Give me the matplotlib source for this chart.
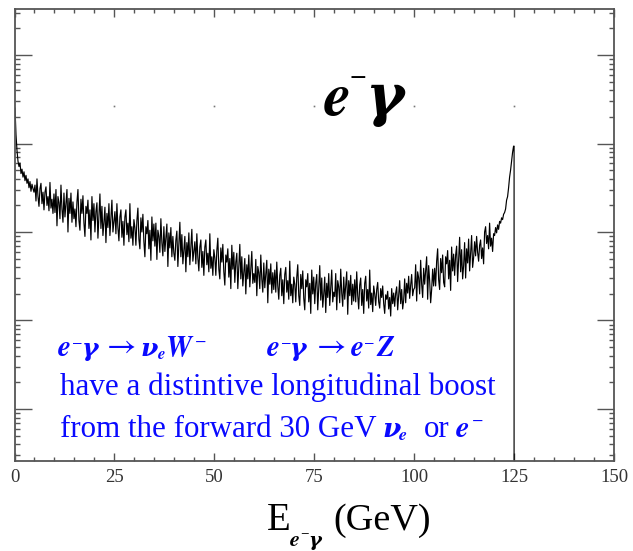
import numpy as np
import matplotlib
matplotlib.use("Agg")
import matplotlib.pyplot as plt
from matplotlib.ticker import MultipleLocator, LogLocator, NullFormatter

# ---------------- data ----------------
bin_width_gev = 0.25
energy_edges = np.arange(0, 125.0 + bin_width_gev / 2, bin_width_gev)   # GeV
# log10(events per 0.25 GeV bin), one row = 5 GeV (20 bins)
log_counts = [
    4.40, 4.10, 3.92, 3.80, 3.74, 3.78, 3.66, 3.71, 3.62, 3.68, 3.58, 3.64, 3.55, 3.60, 3.50, 3.57, 3.46, 3.54, 3.49, 3.45,
    3.53, 3.35, 3.60, 3.40, 3.29, 3.49, 3.55, 3.32, 3.45, 3.25, 3.45, 3.51, 3.30, 3.40, 3.24, 3.56, 3.27, 3.37, 3.21, 3.43,
    3.22, 3.48, 3.07, 3.40, 3.33, 3.15, 3.53, 3.26, 3.11, 3.44, 3.17, 3.33, 3.48, 3.00, 3.38, 3.21, 3.44, 3.11, 3.34, 3.15,
    3.26, 3.06, 3.34, 3.48, 3.13, 3.02, 3.37, 3.21, 3.41, 3.10, 2.95, 3.29, 3.21, 3.36, 3.04, 3.25, 2.91, 3.40, 3.13, 3.32,
    3.00, 3.23, 3.33, 2.93, 3.18, 3.43, 3.04, 3.29, 2.96, 3.11, 3.28, 2.88, 3.21, 3.05, 3.32, 2.96, 3.17, 3.36, 3.00, 3.11,
    3.23, 2.98, 3.32, 3.05, 2.90, 3.17, 3.25, 2.94, 3.12, 2.85, 3.17, 3.25, 2.97, 3.10, 2.89, 3.32, 2.93, 3.06, 2.85, 3.14,
    3.05, 2.85, 3.13, 3.27, 2.92, 2.81, 3.16, 3.00, 3.20, 2.89, 2.72, 3.06, 2.98, 3.13, 2.81, 3.02, 2.68, 3.17, 2.90, 3.09,
    2.84, 3.10, 2.69, 3.02, 2.95, 2.77, 3.15, 2.88, 2.73, 3.06, 2.78, 2.94, 3.09, 2.61, 2.99, 2.82, 3.05, 2.72, 2.95, 2.76,
    2.68, 2.91, 3.01, 2.61, 2.86, 3.11, 2.72, 2.97, 2.64, 2.79, 2.95, 2.55, 2.88, 2.72, 2.99, 2.63, 2.84, 3.03, 2.67, 2.78,
    2.89, 2.64, 2.98, 2.71, 2.56, 2.83, 2.91, 2.60, 2.78, 2.51, 2.83, 2.91, 2.63, 2.76, 2.55, 2.98, 2.59, 2.72, 2.51, 2.80,
    2.71, 2.51, 2.79, 2.93, 2.58, 2.47, 2.82, 2.66, 2.86, 2.55, 2.40, 2.74, 2.66, 2.81, 2.49, 2.70, 2.36, 2.85, 2.58, 2.77,
    2.43, 2.66, 2.76, 2.36, 2.61, 2.86, 2.47, 2.72, 2.39, 2.54, 2.70, 2.30, 2.63, 2.47, 2.74, 2.38, 2.59, 2.78, 2.42, 2.53,
    2.43, 2.69, 2.28, 2.61, 2.54, 2.36, 2.74, 2.47, 2.32, 2.65, 2.37, 2.53, 2.68, 2.20, 2.58, 2.41, 2.64, 2.31, 2.54, 2.35,
    2.57, 2.32, 2.66, 2.39, 2.24, 2.51, 2.59, 2.28, 2.46, 2.19, 2.52, 2.60, 2.32, 2.45, 2.24, 2.67, 2.28, 2.41, 2.20, 2.49,
    2.41, 2.21, 2.49, 2.63, 2.28, 2.17, 2.52, 2.36, 2.56, 2.25, 2.12, 2.46, 2.38, 2.53, 2.21, 2.42, 2.08, 2.57, 2.30, 2.49,
    2.19, 2.42, 2.52, 2.12, 2.37, 2.62, 2.23, 2.48, 2.15, 2.30, 2.49, 2.09, 2.42, 2.26, 2.53, 2.17, 2.38, 2.57, 2.21, 2.32,
    2.27, 2.53, 2.12, 2.45, 2.38, 2.20, 2.58, 2.31, 2.16, 2.49, 2.24, 2.40, 2.55, 2.07, 2.45, 2.28, 2.51, 2.18, 2.41, 2.22,
    2.46, 2.21, 2.55, 2.28, 2.13, 2.40, 2.48, 2.17, 2.35, 2.08, 2.42, 2.50, 2.22, 2.35, 2.14, 2.57, 2.18, 2.31, 2.10, 2.39,
    2.30, 2.17, 2.35, 2.43, 2.21, 2.14, 2.36, 2.26, 2.39, 2.19, 2.08, 2.29, 2.24, 2.33, 2.13, 2.26, 2.05, 2.36, 2.19, 2.31,
    2.16, 2.31, 2.38, 2.12, 2.28, 2.45, 2.19, 2.35, 2.13, 2.23, 2.47, 2.20, 2.42, 2.31, 2.50, 2.25, 2.40, 2.52, 2.28, 2.35,
    2.37, 2.63, 2.22, 2.55, 2.48, 2.30, 2.68, 2.41, 2.26, 2.59, 2.41, 2.57, 2.72, 2.24, 2.62, 2.45, 2.20, 2.35, 2.58, 2.39,
    2.59, 2.39, 2.67, 2.81, 2.46, 2.35, 2.70, 2.54, 2.74, 2.43, 2.38, 2.72, 2.64, 2.79, 2.47, 2.68, 2.34, 2.83, 2.56, 2.75,
    2.51, 2.74, 2.84, 2.44, 2.69, 2.94, 2.55, 2.80, 2.47, 2.62, 2.88, 2.48, 2.81, 2.65, 2.92, 2.56, 2.77, 2.96, 2.60, 2.71,
    2.89, 2.73, 2.95, 2.77, 2.67, 2.85, 2.91, 2.70, 2.82, 2.64, 3.00, 3.06, 2.87, 2.96, 2.81, 3.10, 2.84, 2.93, 2.78, 2.98,
    2.96, 3.05, 2.99, 3.08, 3.03, 3.12, 3.10, 3.16, 3.14, 3.20, 3.22, 3.26, 3.36, 3.40, 3.50, 3.62, 3.70, 3.80, 3.90, 3.97,
]
counts = 10.0 ** np.array(log_counts)
empty_bin = 1e-2   # beyond the 125 GeV endpoint

grid_dot_energy = [25, 50, 75, 100, 125]
grid_dot_log = 4.42

x_ticks_major = [0, 25, 50, 75, 100, 125, 150]
x_tick_labels = ["0", "25", "50", "75", "100", "125", "150"]

# ---------------- figure ----------------
W, H = 633, 551
fig = plt.figure(figsize=(W / 100, H / 100), dpi=100)
ax = fig.add_axes([14.5 / W, 1 - 461 / H, 599.5 / W, 452 / H])

centers = 0.5 * (energy_edges[:-1] + energy_edges[1:])
xs = np.concatenate([centers, [energy_edges[-1], energy_edges[-1]]])
ys = np.concatenate([counts, [counts[-1], empty_bin]])
ax.plot(xs, ys, color="black", lw=0.85)
ax.plot(grid_dot_energy, [10 ** grid_dot_log] * len(grid_dot_energy), ls="none",
        marker="s", ms=1.2, color="#777777", mew=0)

ax.set_yscale("log")
ax.set_xlim(0, 150)
ax.set_ylim(10 ** 0.412, 10 ** 5.52)

ax.set_xticks(x_ticks_major)
ax.set_xticklabels(x_tick_labels, family="Liberation Serif", fontsize=13.5, color="#333333")
ax.xaxis.set_minor_locator(MultipleLocator(5))
ax.yaxis.set_major_locator(LogLocator(base=10, numticks=20))
ax.yaxis.set_minor_locator(LogLocator(base=10, subs=np.arange(2, 10), numticks=20))
ax.yaxis.set_major_formatter(NullFormatter())
ax.yaxis.set_minor_formatter(NullFormatter())

ax.tick_params(axis="x", which="major", direction="in", length=5.8, width=1.0,
               top=True, bottom=True, color="#555555", pad=6)
ax.tick_params(axis="x", which="minor", direction="in", length=2.9, width=1.0,
               top=True, bottom=True, color="#555555")
ax.tick_params(axis="y", which="major", direction="in", length=12, width=1.0,
               left=True, right=True, color="#555555")
ax.tick_params(axis="y", which="minor", direction="in", length=3.8, width=1.0,
               left=True, right=True, color="#555555")
for s in ax.spines.values():
    s.set_color("#555555")
    s.set_linewidth(1.3)


def ptext(x, y, s, **kw):
    kw.setdefault("ha", "left")
    kw.setdefault("va", "baseline")
    kw.setdefault("family", ["Liberation Serif", "DejaVu Serif"])
    fig.text(x / W, 1 - y / H, s, **kw)


MATH = ["STIXGeneral", "DejaVu Serif"]
GREEK = ["DejaVu Serif"]

# big title e^- gamma
ptext(324, 115, "e", fontsize=44, weight="bold", style="italic", family=MATH)
ptext(358, 77, "\u2212", fontsize=16, weight="bold", ha="center", va="center", family=MATH)
ptext(365, 115, "\u03b3", fontsize=42, weight="bold", style="italic", family=GREEK)

blue = "#0a0aff"
bi = dict(weight="bold", style="italic", color=blue, family=MATH)
gbi = dict(weight="bold", style="italic", color=blue, family=GREEK)
# line 1
y1 = 356
ptext(58, y1, "e", fontsize=21, **bi)
ptext(77, y1 - 13, "\u2212", fontsize=11, ha="center", va="center", color=blue, family=MATH)
ptext(82, y1, "\u03b3", fontsize=18, **gbi)
ptext(107, y1 - 1, "\u2192", fontsize=23, color=blue, family=MATH)
ptext(141, y1, "\u03bd", fontsize=18, **gbi)
ptext(158, y1 + 3, "e", fontsize=12, **bi)
ptext(165, y1, "W", fontsize=21, **bi)
ptext(201, y1 - 14, "\u2212", fontsize=12, ha="center", va="center", color=blue, family=MATH)

ptext(267, y1, "e", fontsize=21, **bi)
ptext(286, y1 - 13, "\u2212", fontsize=11, ha="center", va="center", color=blue, family=MATH)
ptext(290, y1, "\u03b3", fontsize=18, **gbi)
ptext(317, y1 - 1, "\u2192", fontsize=23, color=blue, family=MATH)
ptext(351, y1, "e", fontsize=21, **bi)
ptext(369, y1 - 13, "\u2212", fontsize=11, ha="center", va="center", color=blue, family=MATH)
ptext(376, y1, "Z", fontsize=21, **bi)

# line 2
ptext(60, 395, "have a distintive longitudinal boost", fontsize=22.3, color=blue)
# line 3
y3 = 437
ptext(60, y3, "from the forward 30 GeV", fontsize=22.3, color=blue)
ptext(382, y3, "\u03bd", fontsize=19, **gbi)
ptext(399, y3 + 3, "e", fontsize=13, **bi)
ptext(424, y3, "or", fontsize=22.3, color=blue)
ptext(456, y3, "e", fontsize=22, **bi)
ptext(478, y3 - 16, "\u2212", fontsize=12, ha="center", va="center", color=blue, family=MATH)

# x label  E_{e^- gamma}(GeV)
ptext(267, 530, "E", fontsize=28)
ptext(290, 546, "e", fontsize=16, weight="bold", style="italic", family=MATH)
ptext(305, 534, "\u2212", fontsize=9, ha="center", va="center", family=MATH)
ptext(308, 546, "\u03b3", fontsize=14, weight="bold", style="italic", family=GREEK)
ptext(333, 530, "(GeV)", fontsize=27.5)

fig.savefig("out.png", dpi=100)
